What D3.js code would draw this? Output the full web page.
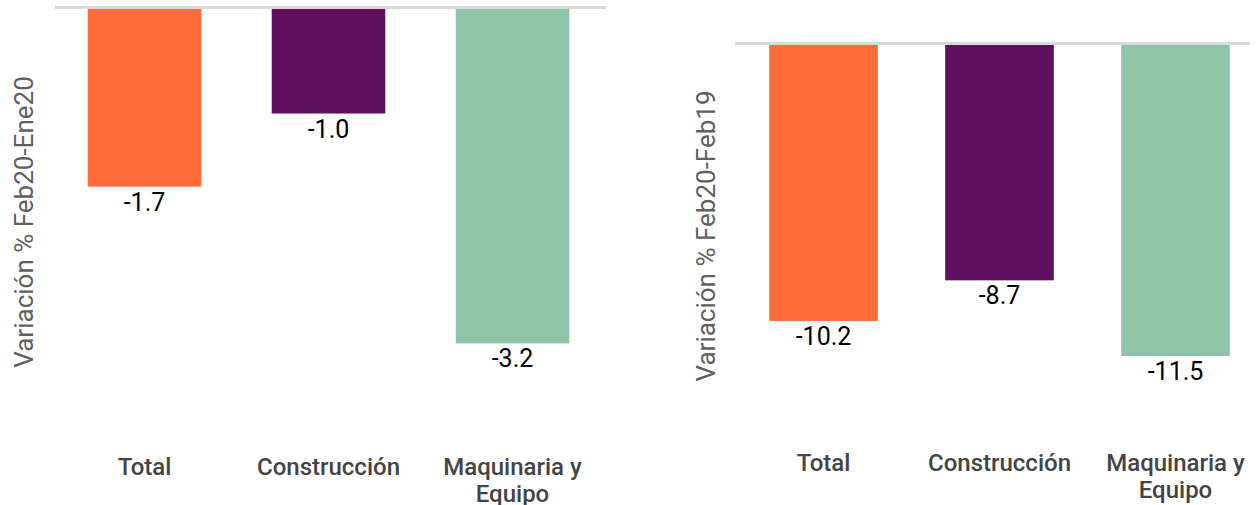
<!DOCTYPE html>
<html>
<head>
<meta charset="utf-8">
<script src="https://cdn.jsdelivr.net/npm/d3@7"></script>
<style>
body{margin:0;background:#fff;}
text{font-family:Roboto,"Noto Sans",sans-serif;}
</style>
</head>
<body>
<svg id="chart" width="1258" height="505"></svg>
<script>
const categories = ["Total","Construcción","Maquinaria y Equipo"];
const colors = ["#ff6b3a","#600e5e","#8fc3a7"];
const varMensual = [-1.7,-1.0,-3.2];
const varAnual = [-10.2,-8.7,-11.5];

const svg = d3.select("#chart");

// each panel: band range, zero line extent, y scale
const panels = [
 {values:varMensual, title:"Variación % Feb20-Ene20", band:[52.5,604.5], line:[55,606],
  y:d3.scaleLinear().domain([-4,0]).range([427,9]), titleX:24, titleY:222, catY:475},
 {values:varAnual, title:"Variación % Feb20-Feb19", band:[735.5,1263.5], line:[735,1250],
  y:d3.scaleLinear().domain([-14,0]).range([423.7,45]), titleX:706, titleY:236, catY:471}
];

panels.forEach(p=>{
    const x = d3.scaleBand().domain(categories).range(p.band)
    .paddingInner(0.383).paddingOuter(0.1915);
    const g = svg.append("g");

    g.selectAll("rect.bar").data(p.values).join("rect")
    .attr("class","bar")
    .attr("x",(d,i)=>x(categories[i]))
    .attr("width",x.bandwidth())
    .attr("y",p.y(0))
    .attr("height",d=>p.y(d)-p.y(0))
    .attr("fill",(d,i)=>colors[i]);

    g.append("line")
    .attr("x1",p.line[0]).attr("x2",p.line[1])
    .attr("y1",p.y(0)-1.5).attr("y2",p.y(0)-1.5)
    .attr("stroke","#d9d9d9").attr("stroke-width",3);

    g.selectAll("text.val").data(p.values).join("text")
    .attr("class","val")
    .attr("x",(d,i)=>x(categories[i])+x.bandwidth()/2)
    .attr("y",d=>p.y(d)+24)
    .attr("text-anchor","middle")
    .attr("font-size",25)
    .attr("fill","#000")
    .text(d=>d.toFixed(1));

    // category labels (wrapped)
    categories.forEach(c=>{
        const lines = c==="Maquinaria y Equipo" ? ["Maquinaria y","Equipo"] : [c];
        const t = g.append("text")
        .attr("x",x(c)+x.bandwidth()/2)
        .attr("y",p.catY)
        .attr("text-anchor","middle")
        .attr("font-size",24)
        .attr("font-weight",500)
        .attr("fill","#444");
        lines.forEach((l,j)=>{
            t.append("tspan").attr("x",x(c)+x.bandwidth()/2).attr("dy",j?27:0).text(l);
        });
    });

    g.append("text")
    .attr("transform",`translate(${p.titleX},${p.titleY}) rotate(-90)`)
    .attr("text-anchor","middle")
    .attr("dy","0.35em")
    .attr("font-size",26)
    .attr("fill","#5f5f5f")
    .text(p.title);
});
</script>
</body>
</html>
